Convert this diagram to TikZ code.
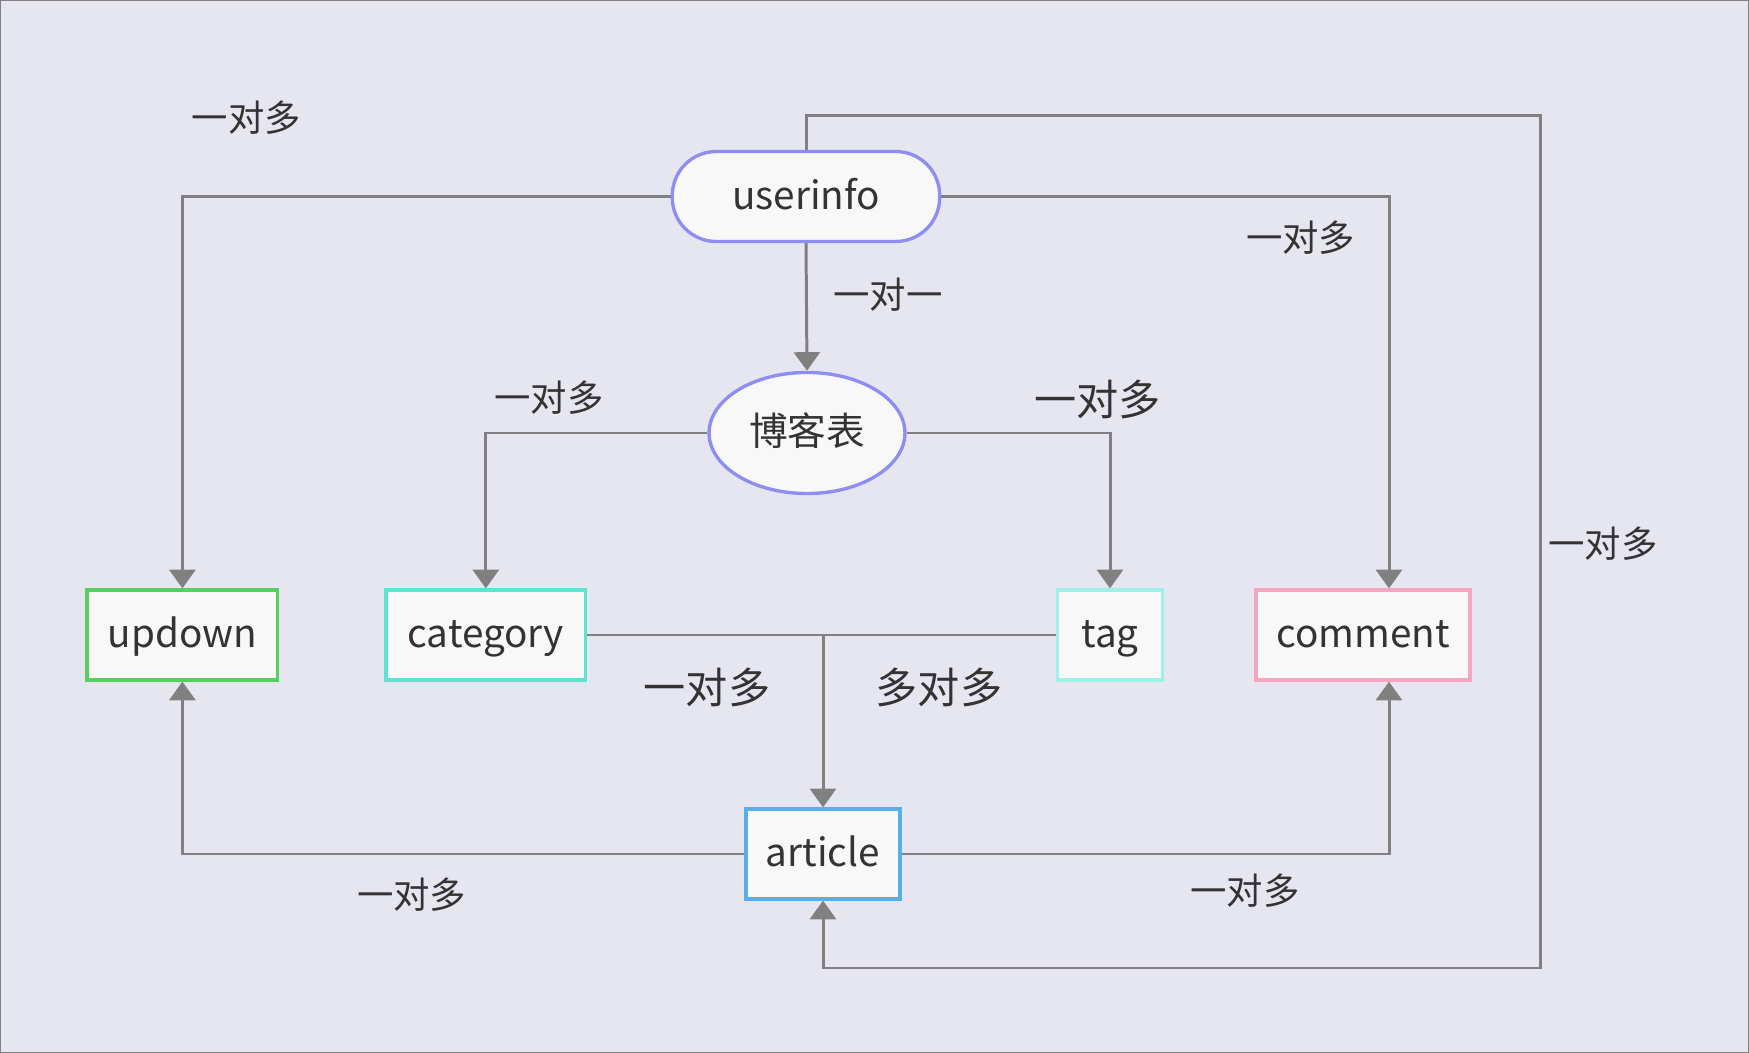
\documentclass[tikz,border=0pt]{standalone}
\usepackage{fontspec}
\setmainfont{Noto Sans CJK SC}
\usetikzlibrary{arrows.meta}
\usetikzlibrary{shapes.geometric}
\usetikzlibrary{calc}
\definecolor{bgc}{HTML}{E6E6F0}
\definecolor{boxfill}{HTML}{F8F8F8}
\definecolor{txt}{HTML}{333333}
\definecolor{linegray}{HTML}{808080}
\definecolor{violet}{HTML}{8E8EF2}
\definecolor{upgreen}{HTML}{55CF60}
\definecolor{catcyan}{HTML}{5CE4D2}
\definecolor{tagcyan}{HTML}{9CF2E8}
\definecolor{compink}{HTML}{F4A6C0}
\definecolor{artblue}{HTML}{5AAEE8}
\tikzstyle{block} = [rectangle, draw, fill=boxfill, line width=1.9pt,
 inner sep=0pt, minimum height=51.2pt, text height=18pt, text depth=3.2pt,
 text=txt, font=\fontsize{22}{26}\selectfont]
\tikzstyle{link} = [draw=linegray, line width=1.7pt]
\tikzstyle{arr} = [link, -{Triangle[width=14.8pt,length=10.6pt]}]
\tikzstyle{rel} = [text=txt, font=\fontsize{20.7}{24}\selectfont]
\tikzstyle{bigrel} = [text=txt, font=\fontsize{24}{28}\selectfont]

\begin{document}
\begin{tikzpicture}[x=0.02cm, y=-0.02cm]

\fill[bgc] (0,0) rectangle (1749,1053);
\useasboundingbox (0,0) rectangle (1749,1053);
\draw[linegray, line width=0.6pt] (0.5,0.5) rectangle (1748.5,1052.5);

\node[block, draw=violet, rounded corners=25pt, minimum width=152.2pt](userinfo) at (806,196.5){userinfo};
\node[block, ellipse, draw=violet, minimum width=111.5pt, minimum height=68.9pt](blog) at (807,433){博客表};

\node[block, draw=upgreen, minimum width=108.6pt](updown) at (182.4,635){updown};
\node[block, draw=catcyan, minimum width=113.6pt](category) at (485.8,635){category};
\node[block, draw=tagcyan, minimum width=59.7pt](tag) at (1110,635){tag};
\node[block, draw=compink, minimum width=121.8pt](comment) at (1363,635){comment};
\node[block, draw=artblue, minimum width=87.6pt](article) at (823,854){article};

\coordinate (loopa) at (1540.5,116);
\coordinate (loopb) at (1540.5,968);
\coordinate (comtop) at ($(comment.north)+(26,0)$);
\coordinate (combot) at ($(comment.south)+(26,0)$);

\draw[arr] (userinfo.west) -| (updown.north);
\draw[arr] (userinfo.east) -| (comtop);
\draw[arr] (userinfo.south) -- (blog.north);
\draw[arr] (blog.west) -| (category.north);
\draw[arr] (blog.east) -| (tag.north);
\draw[link] (category.east) -- (tag.west);
\draw[arr] (category.east -| article.north) -- (article.north);
\draw[arr] (article.west) -| (updown.south);
\draw[arr] (article.east) -| (combot);
\draw[arr] (userinfo.north) |- (loopa) -- (loopb) -| (article.south);

\node[rel](upcount) at (246.5,118){一对多};
\node[rel](comcount) at (1300.6,237.6){一对多};
\node[rel](blogone) at (888,294.5){一对一};
\node[rel](catcount) at (549,398){一对多};
\node[bigrel](tagcount) at (1097.6,399){一对多};
\node[rel](artcount) at (1603,544){一对多};
\node[bigrel](catart) at (707,687){一对多};
\node[bigrel](tagart) at (939,687){多对多};
\node[rel](artup) at (411.6,894.6){一对多};
\node[rel](artcom) at (1245,891){一对多};

\end{tikzpicture}
\end{document}
